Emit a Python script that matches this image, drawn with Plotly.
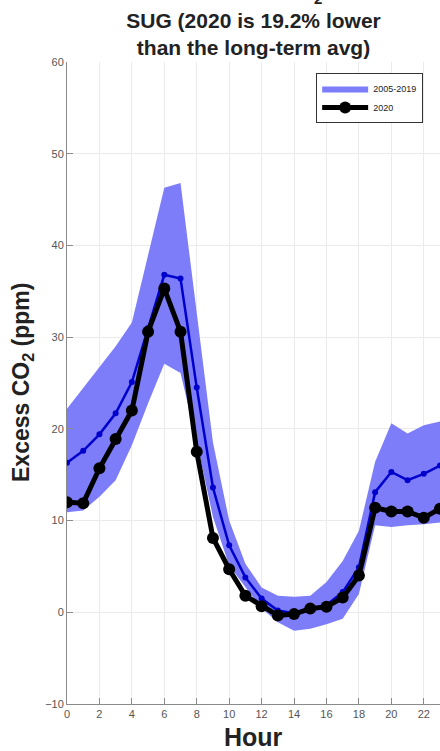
import plotly.graph_objects as go

hours = list(range(24))

avg_2005_2019 = [16.3, 17.6, 19.4, 21.7, 25.1, 31.0, 36.8, 36.4, 24.5, 13.6, 7.3, 3.8,
                 1.5, 0.2, -0.1, 0.2, 0.8, 2.2, 4.9, 13.1, 15.3, 14.4, 15.1, 16.0]

vals_2020 = [12.0, 11.9, 15.7, 18.9, 22.0, 30.6, 35.3, 30.6, 17.5, 8.1, 4.7, 1.8,
             0.65, -0.35, -0.2, 0.4, 0.6, 1.6, 4.0, 11.4, 11.0, 11.0, 10.3, 11.3]

band_upper = [22.2, 24.5, 26.8, 29.0, 31.6, 39.0, 46.3, 46.8, 32.9, 18.5, 10.0, 5.3,
              2.7, 1.8, 1.7, 1.8, 3.3, 5.6, 8.9, 16.4, 20.6, 19.5, 20.4, 20.8]

band_lower = [10.9, 11.1, 12.6, 14.4, 18.2, 22.8, 27.1, 26.1, 18.6, 10.4, 5.1, 2.7,
              0.4, -1.1, -2.0, -1.8, -1.3, -0.7, 2.0, 9.5, 9.3, 9.5, 9.6, 9.8]

x_ticks = list(range(0, 23, 2))
y_ticks = list(range(-10, 61, 10))

FONT = "Liberation Sans, Arial, sans-serif"
BAND = "rgb(125,125,250)"

fig = go.Figure()

fig.add_trace(go.Scatter(x=hours, y=band_lower, mode="lines",
                         line=dict(width=0, color=BAND), showlegend=False,
                         hoverinfo="skip"))
fig.add_trace(go.Scatter(x=hours, y=band_upper, mode="lines", fill="tonexty",
                         fillcolor=BAND, line=dict(width=0, color=BAND),
                         name="2005-2019", hoverinfo="skip"))
fig.add_trace(go.Scatter(x=hours, y=avg_2005_2019, mode="lines+markers",
                         line=dict(color="rgb(0,0,205)", width=2.5),
                         marker=dict(color="rgb(0,0,205)", size=6),
                         showlegend=False))
fig.add_trace(go.Scatter(x=hours, y=vals_2020, mode="lines+markers",
                         line=dict(color="black", width=5),
                         marker=dict(color="black", size=12),
                         name="2020"))

axis_common = dict(
    showline=True, linecolor="#8a8a8a", linewidth=1,
    ticks="inside", ticklen=6, tickcolor="#8a8a8a", tickwidth=1,
    showgrid=True, gridcolor="#ebebeb", gridwidth=1, zeroline=False,
    tickfont=dict(family=FONT, size=11, color="#555555"),
    mirror=False,
)

fig.update_xaxes(range=[0, 23], tickvals=x_ticks, **axis_common)
fig.update_yaxes(range=[-10, 60], tickvals=y_ticks, **axis_common)

fig.update_layout(
    width=440, height=751,
    margin=dict(l=67, r=0, t=62, b=47),
    paper_bgcolor="white", plot_bgcolor="white",
    font=dict(family=FONT),
    title=dict(text="<b>SUG (2020 is 19.2% lower<br>than the long-term avg)</b>",
               x=0.5, xref="paper", xanchor="center",
               y=1 - 28 / 751, yref="container", yanchor="middle",
               font=dict(family=FONT, size=21, color="#222222")),
    legend=dict(x=0.668, y=0.983, xanchor="left", yanchor="top",
                traceorder="normal",
                bordercolor="#333333", borderwidth=1, bgcolor="white",
                font=dict(family=FONT, size=9, color="#222222"),
                itemwidth=46, tracegroupgap=0),
    showlegend=True,
)

fig.add_annotation(text="<b>Excess CO<sub>2</sub> (ppm)</b>", textangle=-90,
                   xref="paper", yref="paper", x=-45 / 373, y=0.5,
                   xanchor="center", yanchor="middle", showarrow=False,
                   font=dict(family=FONT, size=23, color="#222222"))
fig.add_annotation(text="<b>Hour</b>", xref="paper", yref="paper",
                   x=0.5, y=-33 / 642, xanchor="center", yanchor="middle",
                   showarrow=False, font=dict(family=FONT, size=25, color="#222222"))
fig.add_annotation(text="<b>2</b>", xref="paper", yref="paper",
                   x=(318 - 67) / 373, y=1 + (62 - 9) / 642, xanchor="center",
                   yanchor="bottom", showarrow=False,
                   font=dict(family=FONT, size=15, color="#222222"))

fig.write_html("out.html")
